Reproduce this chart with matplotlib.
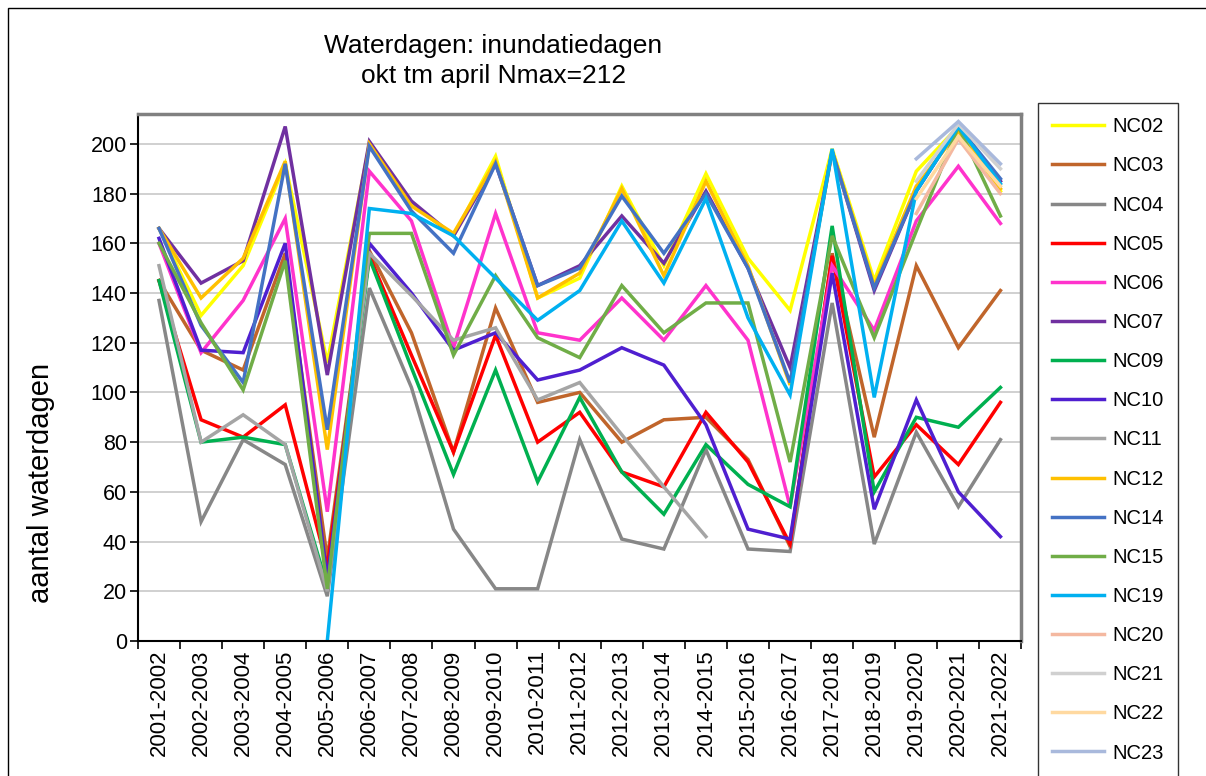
import numpy as np
import matplotlib.pyplot as plt
from matplotlib.patches import Rectangle

plt.rcParams['font.family'] = ['Liberation Sans', 'DejaVu Sans']

nan = np.nan

seasons = ['2001-2002', '2002-2003', '2003-2004', '2004-2005', '2005-2006',
           '2006-2007', '2007-2008', '2008-2009', '2009-2010', '2010-2011',
           '2011-2012', '2012-2013', '2013-2014', '2014-2015', '2015-2016',
           '2016-2017', '2017-2018', '2018-2019', '2019-2020', '2020-2021',
           '2021-2022']

nc02 = [166, 131, 151, 192, 112, 200, 176, 163, 195, 138, 146, 183, 151, 188, 154, 133, 198, 145, 189, 207, 181]
nc03 = [145, 117, 109, 156, 33, 157, 124, 76, 134, 96, 100, 80, 89, 90, 73, 38, 156, 82, 151, 118, 141]
nc04 = [137, 48, 81, 71, 18, 142, 102, 45, 21, 21, 81, 41, 37, 77, 37, 36, 136, 39, 84, 54, 81]
nc05 = [145, 89, 82, 95, 30, 155, 115, 76, 123, 80, 92, 68, 62, 92, 72, 39, 155, 66, 87, 71, 96]
nc06 = [160, 116, 137, 170, 52, 189, 169, 118, 172, 124, 121, 138, 121, 143, 121, 54, 151, 125, 169, 191, 168]
nc07 = [166, 144, 153, 207, 107, 201, 177, 163, 192, 143, 151, 171, 152, 181, 150, 110, 197, 141, 181, 207, 185]
nc09 = [145, 80, 82, 79, 22, 154, 110, 67, 109, 64, 98, 68, 51, 79, 63, 54, 167, 60, 90, 86, 102]
nc10 = [162, 117, 116, 160, 25, 160, 140, 117, 124, 105, 109, 118, 111, 87, 45, 41, 148, 53, 97, 60, 42]
nc11 = [151, 80, 91, 79, 20, 156, 139, 121, 126, 97, 104, 83, 62, 42, nan, nan, nan, nan, nan, nan, nan]
nc12 = [166, 138, 154, 193, 77, 200, 175, 164, 193, 138, 148, 182, 147, 185, 151, 103, 197, 143, 183, 205, 182]
nc14 = [166, 127, 104, 192, 85, 199, 173, 156, 192, 143, 150, 179, 156, 180, 150, 104, 197, 142, 181, 207, 186]
nc15 = [160, 128, 101, 153, 21, 164, 164, 115, 147, 122, 114, 143, 124, 136, 136, 72, 163, 122, 165, 207, 171]
nc19 = [nan, nan, nan, nan, 0, 174, 172, 163, 146, 129, 141, 169, 144, 178, 130, 99, 198, 98, 181, 207, 184]
nc20 = [nan] * 18 + [172, 202, 180]
nc21 = [nan] * 18 + [185, 208, 190]
nc22 = [nan] * 18 + [178, 203, 183]
nc23 = [nan] * 18 + [194, 209, 192]

names = ['NC02', 'NC03', 'NC04', 'NC05', 'NC06', 'NC07', 'NC09', 'NC10', 'NC11',
         'NC12', 'NC14', 'NC15', 'NC19', 'NC20', 'NC21', 'NC22', 'NC23']
series = [nc02, nc03, nc04, nc05, nc06, nc07, nc09, nc10, nc11,
          nc12, nc14, nc15, nc19, nc20, nc21, nc22, nc23]
colors = ['#FFFF00', '#C0652B', '#878787', '#FF0000', '#FF33CC', '#7030A0', '#00B050',
          '#4F1FD0', '#A5A5A5', '#FFC000', '#4472C4', '#70AD47', '#00B0F0',
          '#F4B8A0', '#D0D0D0', '#FFD9A0', '#A9B9DC']

fig = plt.figure(figsize=(12.06, 7.76), dpi=100)
ax = fig.add_axes([0.1144, 0.174, 0.7326, 0.679])

x = np.arange(len(seasons))
for name, vals, c in zip(names, series, colors):
    ax.plot(x, vals, color=c, lw=2.5, label=name, solid_joinstyle='miter')

ax.set_xlim(-0.5, len(seasons) - 0.5)
ax.set_ylim(0, 212)
ax.set_yticks(range(0, 201, 20))
ax.yaxis.grid(True, color='#C8C8C8', lw=1.2)
ax.set_axisbelow(True)
ax.set_xticks(x)
ax.set_xticklabels(seasons, rotation=90, fontsize=16)
ax.tick_params(axis='x', length=0, pad=6)
ax.set_xticks(np.arange(-0.5, len(seasons)), minor=True)
ax.tick_params(axis='x', which='minor', length=6, width=1.2, direction='out')
ax.tick_params(axis='y', labelsize=15.5, length=6, width=1.2, direction='out', pad=2)
ax.set_ylabel('aantal waterdagen', fontsize=21)
ax.yaxis.set_label_coords(-0.094, 0.30)

for s in ['left', 'bottom']:
    ax.spines[s].set_color('black')
    ax.spines[s].set_linewidth(1.5)
for s in ['top', 'right']:
    ax.spines[s].set_color('#808080')
    ax.spines[s].set_linewidth(2.5)

fig.text(0.409, 0.941, 'Waterdagen: inundatiedagen', ha='center', va='center', fontsize=19)
fig.text(0.409, 0.902, 'okt tm april Nmax=212', ha='center', va='center', fontsize=19)

leg = fig.legend(loc='upper left', bbox_to_anchor=(0.8607, 0.867), fontsize=14.5,
                 labelspacing=1.0, handlelength=2.6, handletextpad=0.4,
                 borderpad=0.7, borderaxespad=0, fancybox=False, frameon=True)
leg.get_frame().set_edgecolor('black')
leg.get_frame().set_linewidth(1.0)
for line in leg.get_lines():
    line.set_linewidth(2.5)

fig.patches.append(Rectangle((0.007, -0.01), 1.2, 1.0, transform=fig.transFigure,
                             fill=False, edgecolor='black', lw=1.0))

fig.savefig('out.png', dpi=100)
